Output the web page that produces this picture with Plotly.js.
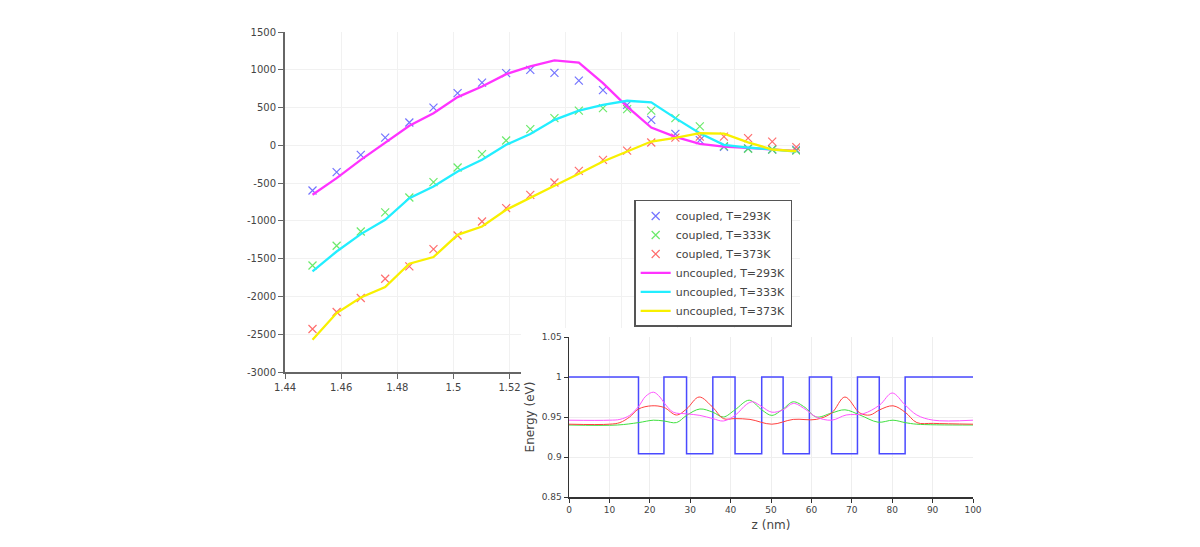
<!DOCTYPE html>
<html>
<head>
<meta charset="utf-8">
<script src="https://cdn.plot.ly/plotly-3.0.1.min.js"></script>
<style>
  html, body { margin: 0; padding: 0; background: #ffffff; overflow: hidden; }
  #main { position: absolute; left: 0; top: 0; width: 1200px; height: 547px; }
  #inset { position: absolute; left: 521px; top: 328px; width: 470px; height: 219px; }
</style>
</head>
<body>
<div id="main"></div>
<div id="inset"></div>
<script>
// ---- main chart data ----
const photonEnergy = [1.4498, 1.4584, 1.4670, 1.4757, 1.4843, 1.4929, 1.5015, 1.5102, 1.5188, 1.5274,
                      1.5360, 1.5447, 1.5533, 1.5619, 1.5705, 1.5791, 1.5878, 1.5964, 1.6050, 1.6136, 1.6222];
const coupled293   = [-598, -355, -126, 103, 302, 500, 690, 831, 955, 999,
                      960, 857, 730, 536, 337, 152, 68, -20, -40, -55, -62];
const coupled333   = [-1590, -1329, -1140, -888, -690, -487, -293, -117, 64, 214,
                      360, 460, 492, 479, 460, 360, 250, -10, -45, -55, -70];
const coupled373   = [-2431, -2206, -2021, -1766, -1603, -1373, -1193, -1008, -831, -655,
                      -492, -337, -192, -69, 37, 103, 116, 116, 95, 50, -24];
const uncoupled293 = [-655, -434, -192, 29, 258, 426, 638, 778, 942, 1045,
                      1125, 1095, 823, 513, 235, 112, 20, -16, -37, -60, -73];
const uncoupled333 = [-1669, -1405, -1175, -985, -699, -545, -346, -192, 7, 150,
                      337, 460, 536, 590, 570, 360, 161, 7, -29, -60, -82];
const uncoupled373 = [-2573, -2220, -2013, -1876, -1567, -1479, -1184, -1074, -853, -690,
                      -536, -377, -214, -82, 50, 100, 160, 155, 40, -55, -78];
const seriesNames  = ['coupled, T=293K', 'coupled, T=333K', 'coupled, T=373K',
                      'uncoupled, T=293K', 'uncoupled, T=333K', 'uncoupled, T=373K'];
const mainXTicks   = [1.44, 1.46, 1.48, 1.5, 1.52, 1.54, 1.56, 1.58, 1.6];
const mainXTickText = ['1.44', '1.46', '1.48', '1.5', '1.52', '1.54', '1.56', '1.58', '1.6'];
const mainYTicks   = [-3000, -2500, -2000, -1500, -1000, -500, 0, 500, 1000, 1500];
const mainYTickText = ['-3000', '-2500', '-2000', '-1500', '-1000', '-500', '0', '500', '1000', '1500'];

// ---- inset data ----
const zPot = [0, 17.2, 17.2, 23.5, 23.5, 29.1, 29.1, 35.6, 35.6, 41.1, 41.1, 47.7, 47.7,
              53.0, 53.0, 59.5, 59.5, 65.0, 65.0, 71.4, 71.4, 76.8, 76.8, 83.2, 83.2, 100];
const ePot = [1, 1, 0.904, 0.904, 1, 1, 0.904, 0.904, 1, 1, 0.904, 0.904, 1,
              1, 0.904, 0.904, 1, 1, 0.904, 0.904, 1, 1, 0.904, 0.904, 1, 1];
const zMag = [0, 10, 12.6, 15, 17.2, 19, 20.9, 22.5, 23.5, 25.8, 29.1, 32.4, 35.6, 38.2, 41.1,
              44, 45.5, 47.7, 50.2, 53, 55.5, 58.4, 61.2, 65, 68.6, 72.8, 76.9, 80, 83.2, 86.1, 90.2, 100];
const eMag = [0.946, 0.946, 0.947, 0.952, 0.963, 0.976, 0.981, 0.975, 0.968, 0.956, 0.954, 0.952, 0.948, 0.945, 0.952,
              0.966, 0.969, 0.963, 0.956, 0.959, 0.967, 0.960, 0.950, 0.946, 0.9525, 0.954, 0.965, 0.980, 0.965, 0.9525, 0.946, 0.946];
const zRed = [0, 10, 12.6, 15, 17.2, 20.5, 23.5, 26.6, 29.1, 32.2, 35.6, 38.2, 41.1, 44.8, 50.2,
              55.5, 61.2, 65, 68.3, 72, 74.5, 76.9, 80.2, 83.2, 86.1, 90.2, 100];
const eRed = [0.941, 0.941, 0.943, 0.950, 0.960, 0.964, 0.962, 0.9525, 0.960, 0.975, 0.962, 0.948, 0.948, 0.947, 0.941,
              0.947, 0.947, 0.955, 0.975, 0.955, 0.9525, 0.959, 0.964, 0.956, 0.943, 0.942, 0.941];
const zGrn = [0, 12, 17.2, 20.9, 23.5, 26.6, 29.1, 32.4, 35.6, 38.2, 41.1, 44.6, 47.7, 50.2, 53,
              55.5, 58.4, 61.2, 65, 68.3, 72, 76.5, 80.2, 83.2, 86.1, 100];
const eGrn = [0.940, 0.940, 0.943, 0.946, 0.945, 0.943, 0.952, 0.960, 0.956, 0.950, 0.959, 0.971, 0.959, 0.952, 0.960,
              0.969, 0.962, 0.950, 0.955, 0.959, 0.9525, 0.9435, 0.946, 0.943, 0.941, 0.940];
const insetXTicks = [0, 10, 20, 30, 40, 50, 60, 70, 80, 90, 100];
const insetYTicks = [0.85, 0.9, 0.95, 1, 1.05];
const insetYTickText = ['0.85', '0.9', '0.95', '1', '1.05'];

const FONT = 'DejaVu Sans, Verdana, sans-serif';

function crossTrace(y, name, color) {
  return {
    x: photonEnergy, y: y, name: name, type: 'scatter', mode: 'markers',
    marker: { symbol: 'x-thin', size: 8, color: color, line: { color: color, width: 1.2 } }
  };
}
function lineTrace(y, name, color) {
  return {
    x: photonEnergy, y: y, name: name, type: 'scatter', mode: 'lines',
    line: { color: color, width: 2.3 }
  };
}

const mainData = [
  crossTrace(coupled293, seriesNames[0], 'rgba(90,90,255,0.85)'),
  crossTrace(coupled333, seriesNames[1], 'rgba(80,230,80,0.85)'),
  crossTrace(coupled373, seriesNames[2], 'rgba(255,85,85,0.85)'),
  lineTrace(uncoupled293, seriesNames[3], '#ff33ff'),
  lineTrace(uncoupled333, seriesNames[4], '#22eeff'),
  lineTrace(uncoupled373, seriesNames[5], '#f8f000')
];

const axisCommon = {
  showline: true, linecolor: '#666666', linewidth: 2,
  ticks: 'outside', ticklen: 5, tickcolor: '#666666', tickwidth: 1,
  showgrid: true, gridcolor: '#f1f1f1', gridwidth: 1,
  zeroline: false, tickfont: { family: FONT, size: 10, color: '#444444' }
};

const mainLayout = {
  width: 1200, height: 547,
  margin: { l: 285, r: 400, t: 32, b: 175, pad: 0 },
  paper_bgcolor: '#ffffff', plot_bgcolor: '#ffffff',
  showlegend: true,
  legend: {
    x: 0.678, y: 0.506, xanchor: 'left', yanchor: 'top',
    bgcolor: '#ffffff', bordercolor: '#555555', borderwidth: 1.5,
    font: { family: FONT, size: 11, color: '#444444' },
    itemwidth: 30, tracegroupgap: 0
  },
  xaxis: Object.assign({}, axisCommon, {
    range: [1.44, 1.6235], tickmode: 'array', tickvals: mainXTicks, ticktext: mainXTickText
  }),
  yaxis: Object.assign({}, axisCommon, {
    range: [-3000, 1500], tickmode: 'array', tickvals: mainYTicks, ticktext: mainYTickText
  })
};

Plotly.newPlot('main', mainData, mainLayout, { staticPlot: true, displayModeBar: false });

// ---- inset ----
const insetData = [
  { x: zPot, y: ePot, type: 'scatter', mode: 'lines', line: { color: '#4a4aff', width: 1.5 } },
  { x: zGrn, y: eGrn, type: 'scatter', mode: 'lines', line: { color: '#40e040', width: 1, shape: 'spline', smoothing: 1 } },
  { x: zRed, y: eRed, type: 'scatter', mode: 'lines', line: { color: '#ff4040', width: 1, shape: 'spline', smoothing: 1 } },
  { x: zMag, y: eMag, type: 'scatter', mode: 'lines', line: { color: '#ff55ff', width: 1, shape: 'spline', smoothing: 1 } }
];

const insetAxis = {
  showline: true, linecolor: '#333333', linewidth: 1.5,
  ticks: 'outside', ticklen: 4, tickcolor: '#333333', tickwidth: 1,
  showgrid: true, gridcolor: '#eeeeee', gridwidth: 1,
  zeroline: false, tickfont: { family: FONT, size: 9, color: '#444444' }
};

const insetLayout = {
  width: 470, height: 219,
  margin: { l: 48, r: 18, t: 9, b: 50, pad: 0 },
  paper_bgcolor: '#ffffff', plot_bgcolor: '#ffffff',
  showlegend: false,
  xaxis: Object.assign({}, insetAxis, {
    range: [0, 100], tickmode: 'array', tickvals: insetXTicks,
    title: { text: 'z (nm)', font: { family: FONT, size: 12, color: '#444444' }, standoff: 6 }
  }),
  yaxis: Object.assign({}, insetAxis, {
    range: [0.85, 1.05], tickmode: 'array', tickvals: insetYTicks, ticktext: insetYTickText,
    title: { text: 'Energy (eV)', font: { family: FONT, size: 12, color: '#444444' }, standoff: 4 }
  })
};

Plotly.newPlot('inset', insetData, insetLayout, { staticPlot: true, displayModeBar: false });
</script>
</body>
</html>
